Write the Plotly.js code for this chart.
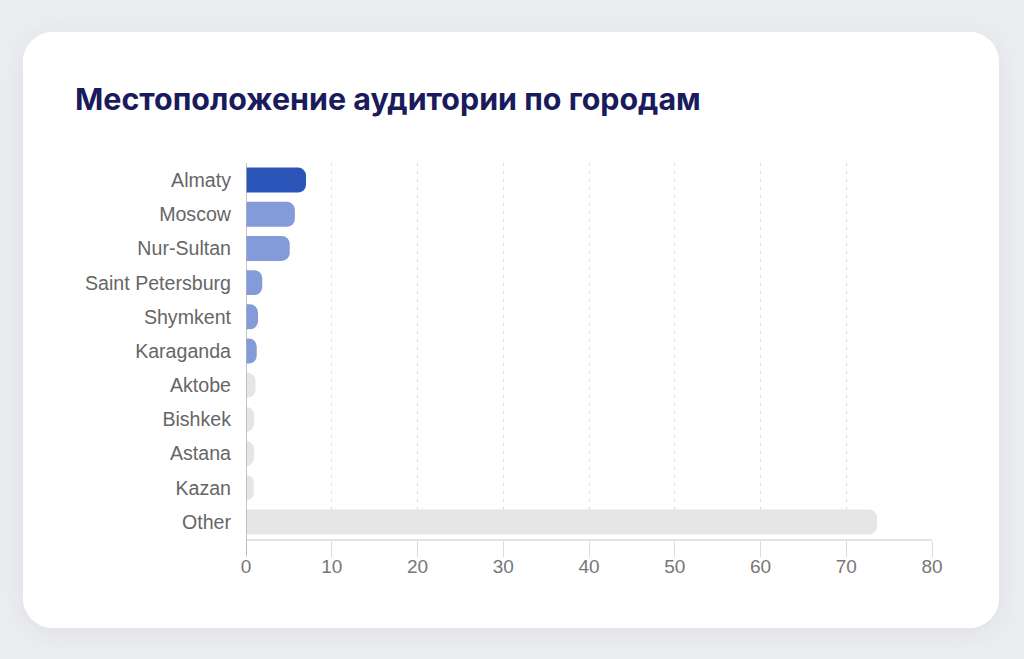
<!DOCTYPE html>
<html>
<head>
<meta charset="utf-8">
<script src="https://cdn.plot.ly/plotly-3.0.1.min.js"></script>
<style>
  html, body { margin: 0; padding: 0; }
  body {
    width: 1024px; height: 659px; overflow: hidden;
    background: #ecedf1;
    font-family: "Liberation Sans", Arial, sans-serif;
  }
  .card {
    position: absolute; left: 23px; top: 32px;
    width: 976px; height: 596px;
    background: #fff; border-radius: 30px;
    box-shadow: 0 4px 28px rgba(40, 50, 90, 0.07);
    overflow: hidden;
  }
  #chart { width: 976px; height: 596px; }
</style>
</head>
<body>
<div class="card"><div id="chart"></div></div>
<script>
// audience share by city, %
const cities = ["Almaty", "Moscow", "Nur-Sultan", "Saint Petersburg", "Shymkent",
                "Karaganda", "Aktobe", "Bishkek", "Astana", "Kazan", "Other"];
const shares = [7.0, 5.7, 5.1, 1.9, 1.4, 1.25, 1.1, 0.95, 0.95, 0.9, 73.6];
const barColors = ["#2c55b9", "#839bd9", "#839bd9", "#839bd9", "#839bd9",
                   "#839bd9", "#e6e6e6", "#e6e6e6", "#e6e6e6", "#e6e6e6", "#e6e6e6"];
const xTicks = [0, 10, 20, 30, 40, 50, 60, 70, 80];

const data = [{
    type: "bar",
    orientation: "h",
    x: shares,
    y: cities,
    marker: { color: barColors, cornerradius: 8, line: { width: 0 } },
    hoverinfo: "none"
}];

const layout = {
    width: 976,
    height: 596,
    paper_bgcolor: "#fff",
    plot_bgcolor: "#fff",
    font: { family: "Liberation Sans, Arial, sans-serif", color: "#666", size: 19 },
    showlegend: false,
    bargap: 0.27,
    margin: { l: 223, r: 67, t: 131, b: 89, pad: 0 },
    title: {
        text: "Местоположение аудитории по городам",
        font: { family: "Inter, sans-serif", size: 30.4, weight: 700, color: "#1a1b5c" },
        xref: "container", yref: "container",
        x: 52 / 976, xanchor: "left",
        y: 1 - 57 / 596, yanchor: "top"
    },
    xaxis: {
        range: [0, 80],
        tickvals: xTicks,
        ticktext: xTicks.map(String),
        showgrid: true,
        gridcolor: "#dcdcdc",
        griddash: "3px,5px",
        gridwidth: 1,
        zeroline: false,
        showline: true,
        linecolor: "#e3e3e3",
        linewidth: 1.5,
        ticks: "outside",
        ticklen: 16,
        tickcolor: "#dcdcdc",
        ticklabelstandoff: -6,
        tickfont: { size: 19, color: "#777" },
        fixedrange: true
    },
    yaxis: {
        autorange: "reversed",
        showgrid: false,
        zeroline: false,
        showline: false,
        ticks: "",
        ticklabelstandoff: 14,
        tickfont: { size: 19.6, color: "#666" },
        fixedrange: true
    },
    shapes: [{
        type: "line",
        xref: "x", yref: "paper",
        x0: 0, x1: 0, y0: -0.043, y1: 1,
        line: { color: "#b0b0b0", width: 1.5 }
    }]
};

Plotly.newPlot("chart", data, layout, { displayModeBar: false, staticPlot: true });
</script>
</body>
</html>
